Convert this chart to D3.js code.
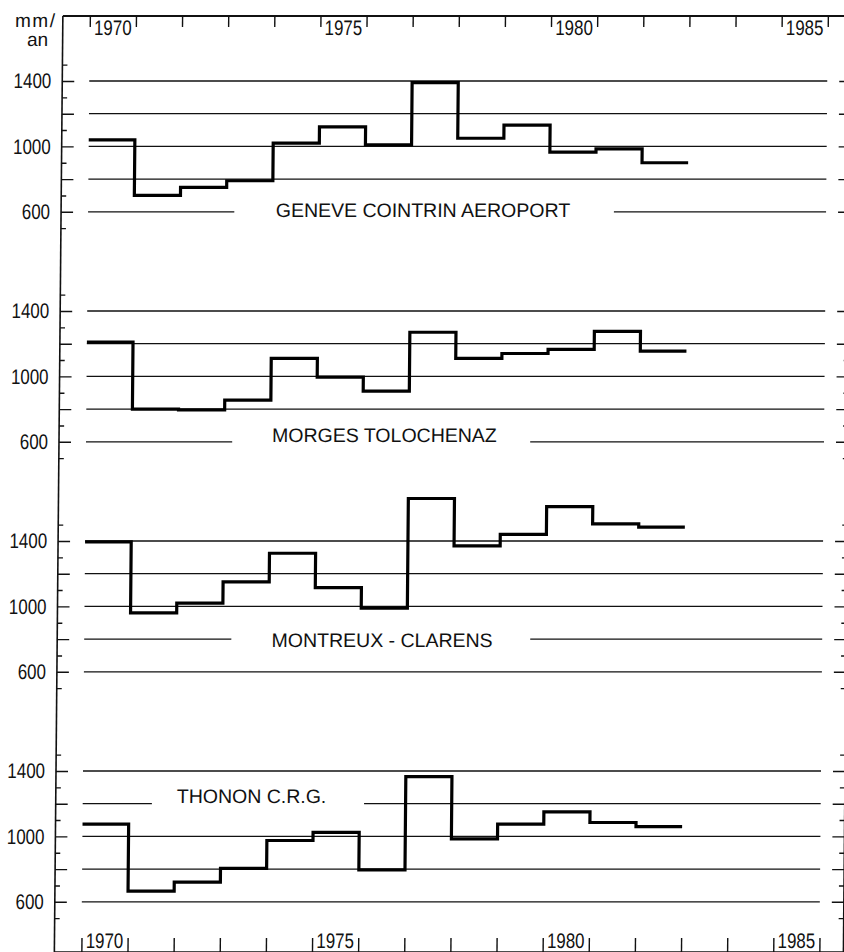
<!DOCTYPE html>
<html>
<head>
<meta charset="utf-8">
<script src="https://cdn.jsdelivr.net/npm/d3@7"></script>
<style>
    body { margin: 0; background: #fff; }
    svg text { font-family: 'Liberation Sans', Arial, sans-serif; fill: #111; }
</style>
</head>
<body>
<div id="graph"></div>
<script>

// annual precipitation, mm/an
const years = [1970, 1971, 1972, 1973, 1974, 1975, 1976, 1977, 1978, 1979, 1980, 1981, 1982];

const geneve   = [1040, 700, 750, 790, 1020, 1120, 1010, 1390, 1050, 1130, 965, 985, 900];
const morges   = [1210, 800, 795, 855, 1110, 995, 910, 1270, 1110, 1140, 1165, 1275, 1155];
const montreux = [1395, 960, 1020, 1150, 1325, 1115, 990, 1660, 1370, 1440, 1610, 1505, 1485];
const thonon   = [1075, 665, 720, 805, 975, 1025, 795, 1365, 985, 1075, 1150, 1085, 1060];

const stations = ['GENEVE COINTRIN AEROPORT', 'MORGES TOLOCHENAZ', 'MONTREUX - CLARENS', 'THONON C.R.G.'];

const yearLabels = [1970, 1975, 1980, 1985];
const gridValues = [600, 800, 1000, 1200, 1400];
const tickLabels = [600, 1000, 1400];
const minorTicks = [500, 700, 900, 1100, 1300, 1500];

const series = [geneve, morges, montreux, thonon];

// where each station name sits and where its grid line is cut
const labelLayout = [
    { level: 600,  from: 1973.17, to: 1981.4,  at: 1977.26, dy: 5.5 },
    { level: 600,  from: 1973.17, to: 1979.63, at: 1976.47, dy: 0.5 },
    { level: 800,  from: 1973.19, to: 1979.67, at: 1976.46, dy: 7.5 },
    { level: 1200, from: 1971.5,  to: 1976.1,  at: 1973.66, dy: -1 }
];

const width = 844;
const height = 952;
const axisLeftX = 63;
const axisRightX = 852;
const axisTopY = 16;
const axisBottomY = 952;
const panelStep = 230;
const panelTop = 81;
const panelSpan = 130.8;
const digitWidth = 9.4;   // the drawing uses a narrow lettering for numbers

var xScale = d3.scaleLinear()
    .domain([1970, 1986])
    .range([90, 828]);

var line = d3.line()
    .x(d => xScale(d.year))
    .curve(d3.curveStepAfter);

// the scanned sheet leans a little, hence the skew
var svg = d3.select('div#graph')
    .append('svg')
        .attr('width', width)
        .attr('height', height)
    .append('g')
        .attr('transform', 'skewX(-0.52)');

// frame
svg.append('line')
    .attr('x1', axisLeftX).attr('x2', axisRightX)
    .attr('y1', axisTopY).attr('y2', axisTopY)
    .attr('stroke', '#111').attr('stroke-width', 2);

svg.append('line')
    .attr('x1', axisLeftX).attr('x2', axisRightX)
    .attr('y1', axisBottomY).attr('y2', axisBottomY)
    .attr('stroke', '#111').attr('stroke-width', 1.5);

svg.append('line')
    .attr('x1', axisLeftX).attr('x2', axisLeftX)
    .attr('y1', axisTopY).attr('y2', axisBottomY)
    .attr('stroke', '#111').attr('stroke-width', 1.6);

svg.append('line')
    .attr('x1', axisRightX).attr('x2', axisRightX)
    .attr('y1', axisTopY).attr('y2', axisBottomY)
    .attr('stroke', '#111').attr('stroke-width', 1.5);

// year ticks, top and bottom
const yearTicks = d3.range(1970, 1987);

var xAxisTop = svg.append('g')
        .attr('transform', `translate(0,${axisTopY})`)
    .call(d3.axisBottom(xScale).tickValues(yearTicks).tickSize(11).tickFormat(''));

var xAxisBottom = svg.append('g')
        .attr('transform', `translate(0,${axisBottomY})`)
    .call(d3.axisTop(xScale).tickValues(yearTicks).tickSize(14).tickFormat(''));

svg.selectAll('.domain').remove();
svg.selectAll('.tick line').attr('stroke', '#111').attr('stroke-width', 1.4);

function narrow(sel) {
    sel.style('font-size', '21px')
        .attr('textLength', d => String(d).length * digitWidth)
        .attr('lengthAdjust', 'spacingAndGlyphs');
}

svg.append('g')
    .selectAll('text')
    .data(yearLabels).enter()
    .append('text')
        .attr('x', d => xScale(d + 0.5))
        .attr('y', 35)
        .attr('text-anchor', 'middle')
        .text(d => d)
        .call(narrow);

svg.append('g')
    .selectAll('text')
    .data(yearLabels).enter()
    .append('text')
        .attr('x', d => xScale(d + 0.5))
        .attr('y', 948)
        .attr('text-anchor', 'middle')
        .text(d => d)
        .call(narrow);

// unit
svg.append('text')
    .attr('x', 36).attr('y', 27)
    .attr('text-anchor', 'middle')
    .style('font-size', '19px')
    .style('letter-spacing', '1.5px')
    .text('mm/');

svg.append('text')
    .attr('x', 38).attr('y', 46)
    .attr('text-anchor', 'middle')
    .style('font-size', '19px')
    .text('an');

series.forEach((values, i) => {

    const top = panelTop + i * panelStep;

    var yScale = d3.scaleLinear()
        .domain([600, 1400])
        .range([top + panelSpan, top]);

    const lay = labelLayout[i];

    var panel = svg.append('g').attr('class', 'panel');

    // left and right ticks
    [[axisLeftX, d3.axisRight], [axisRightX, d3.axisLeft]].forEach(([ax, maker]) => {

        var major = panel.append('g')
                .attr('transform', `translate(${ax},0)`)
            .call(maker(yScale).tickValues(gridValues).tickSize(12).tickFormat(''));

        var minor = panel.append('g')
                .attr('transform', `translate(${ax},0)`)
            .call(maker(yScale).tickValues(minorTicks).tickSize(5).tickFormat(''));

        major.select('.domain').remove();
        minor.select('.domain').remove();
    });

    panel.selectAll('.tick line').attr('stroke', '#111').attr('stroke-width', 1.4);

    var yAxis = panel.append('g')
            .attr('transform', `translate(${axisLeftX},0)`)
        .call(d3.axisLeft(yScale).tickValues(tickLabels).tickSize(0).tickPadding(11).tickFormat(d3.format('d')))

    yAxis.select('.domain').remove();
    yAxis.attr('font-family', null);
    yAxis.selectAll('text')
        .attr('fill', '#111')
        .call(narrow);

    // grid lines, one of them cut for the station name
    const segments = [];
    gridValues.forEach(v => {
        if (v === lay.level) {
            segments.push({ v: v, a: 1970, b: lay.from });
            segments.push({ v: v, a: lay.to, b: 1986 });
        } else {
            segments.push({ v: v, a: 1970, b: 1986 });
        }
    });

    panel.append('g')
        .selectAll('line')
        .data(segments).enter()
        .append('line')
            .attr('x1', d => xScale(d.a))
            .attr('x2', d => xScale(d.b))
            .attr('y1', d => yScale(d.v))
            .attr('y2', d => yScale(d.v))
            .attr('stroke', '#111')
            .attr('stroke-width', 1.3);

    panel.append('text')
        .attr('x', xScale(lay.at))
        .attr('y', yScale(lay.level) + lay.dy)
        .attr('text-anchor', 'middle')
        .style('font-size', '19.5px')
        .text(stations[i]);

    // the yearly step line
    const pts = years.map((yr, j) => ({ year: yr, value: values[j] }));
    pts.push({ year: years[years.length - 1] + 1, value: values[values.length - 1] });

    panel.append('path')
        .datum(pts)
        .attr('d', line.y(d => yScale(d.value)))
        .attr('fill', 'none')
        .attr('stroke', '#000')
        .attr('stroke-width', 3.2)
        .attr('stroke-linejoin', 'miter');
});

</script>
</body>
</html>
